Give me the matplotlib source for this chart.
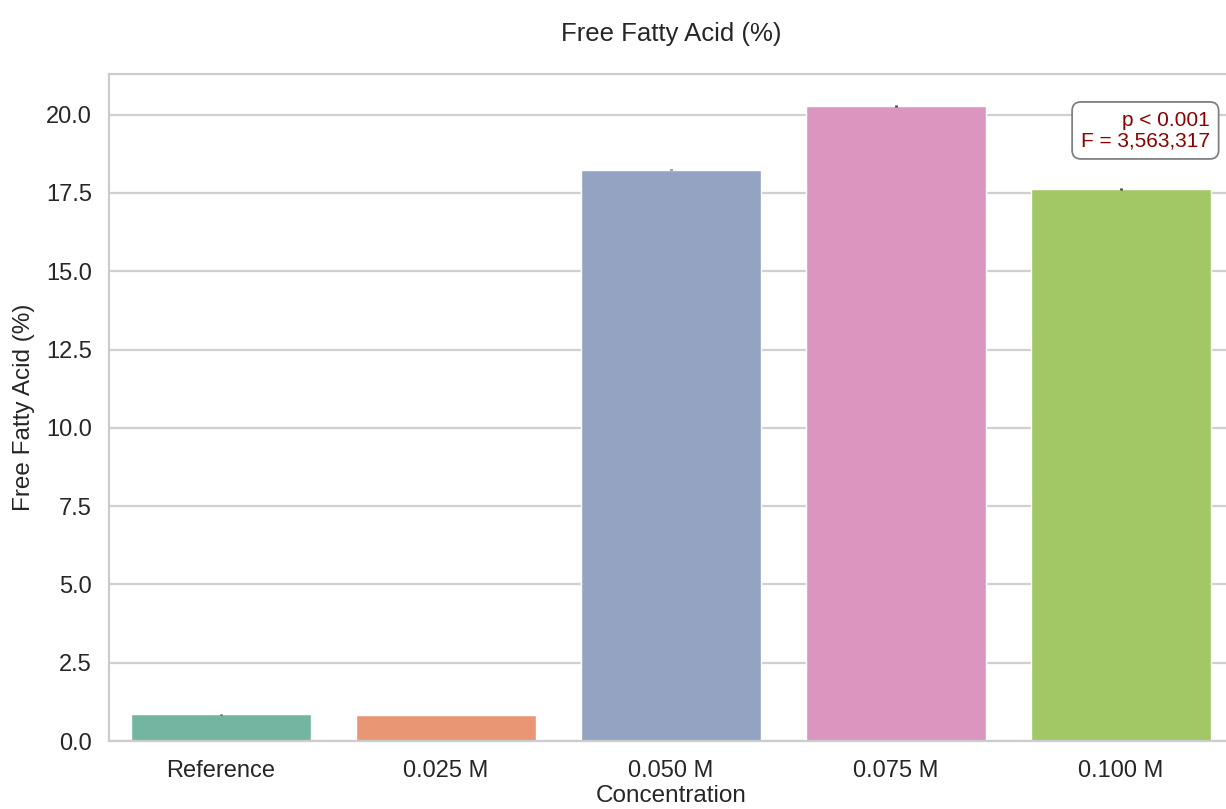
import matplotlib
matplotlib.use("Agg")
import matplotlib.pyplot as plt
import seaborn as sns
import numpy as np

categories = ["Reference", "0.025 M", "0.050 M", "0.075 M", "0.100 M"]
ffa_mean = [0.85, 0.83, 18.25, 20.27, 17.62]
ffa_sd = [0.01, 0.01, 0.03, 0.03, 0.03]
stats_text = "p < 0.001\nF = 3,563,317"

sns.set_theme(style="whitegrid")
plt.rcParams['font.family'] = ['Liberation Sans', 'DejaVu Sans']

fig = plt.figure(figsize=(12.26, 8.09), dpi=100)
ax = fig.add_axes([108.5 / 1226, 68 / 809, 1125 / 1226, 667 / 809])

palette = sns.color_palette("Set2", len(categories))
sns.barplot(x=categories, y=ffa_mean, hue=categories, palette=palette,
            legend=False, ax=ax, errorbar=None, width=0.8)
ax.errorbar(np.arange(len(categories)), ffa_mean, yerr=ffa_sd, fmt='none',
            ecolor='#424242', elinewidth=2.0, capsize=0)

ax.set_xlim(-0.5, 4.5)
ax.set_ylim(0, 21.3)
ax.set_yticks([0, 2.5, 5, 7.5, 10, 12.5, 15, 17.5, 20])
ax.set_yticklabels(["0.0", "2.5", "5.0", "7.5", "10.0", "12.5", "15.0", "17.5", "20.0"])
ax.tick_params(axis='both', labelsize=17, colors='#262626', pad=6)
ax.tick_params(axis='x', pad=8)
ax.set_xlabel("Concentration", fontsize=17.5, color='#262626', labelpad=2)
ax.set_ylabel("Free Fatty Acid (%)", fontsize=17.5, color='#262626', labelpad=8)
ax.set_title("Free Fatty Acid (%)", fontsize=18.5, color='#262626', pad=24)
ax.grid(axis='x', visible=False)
ax.grid(axis='y', color='#d0d0d0', linewidth=1.6)
for s in ax.spines.values():
    s.set_color('#cccccc')
    s.set_linewidth(1.6)

ax.text(0.979, 0.945, stats_text, transform=ax.transAxes, ha='right', va='top',
        fontsize=15, color='#8b0000', linespacing=1.1,
        bbox=dict(boxstyle='round,pad=0.42', facecolor='white', edgecolor='#808080', linewidth=1.3))

fig.savefig("out.png", dpi=100)
